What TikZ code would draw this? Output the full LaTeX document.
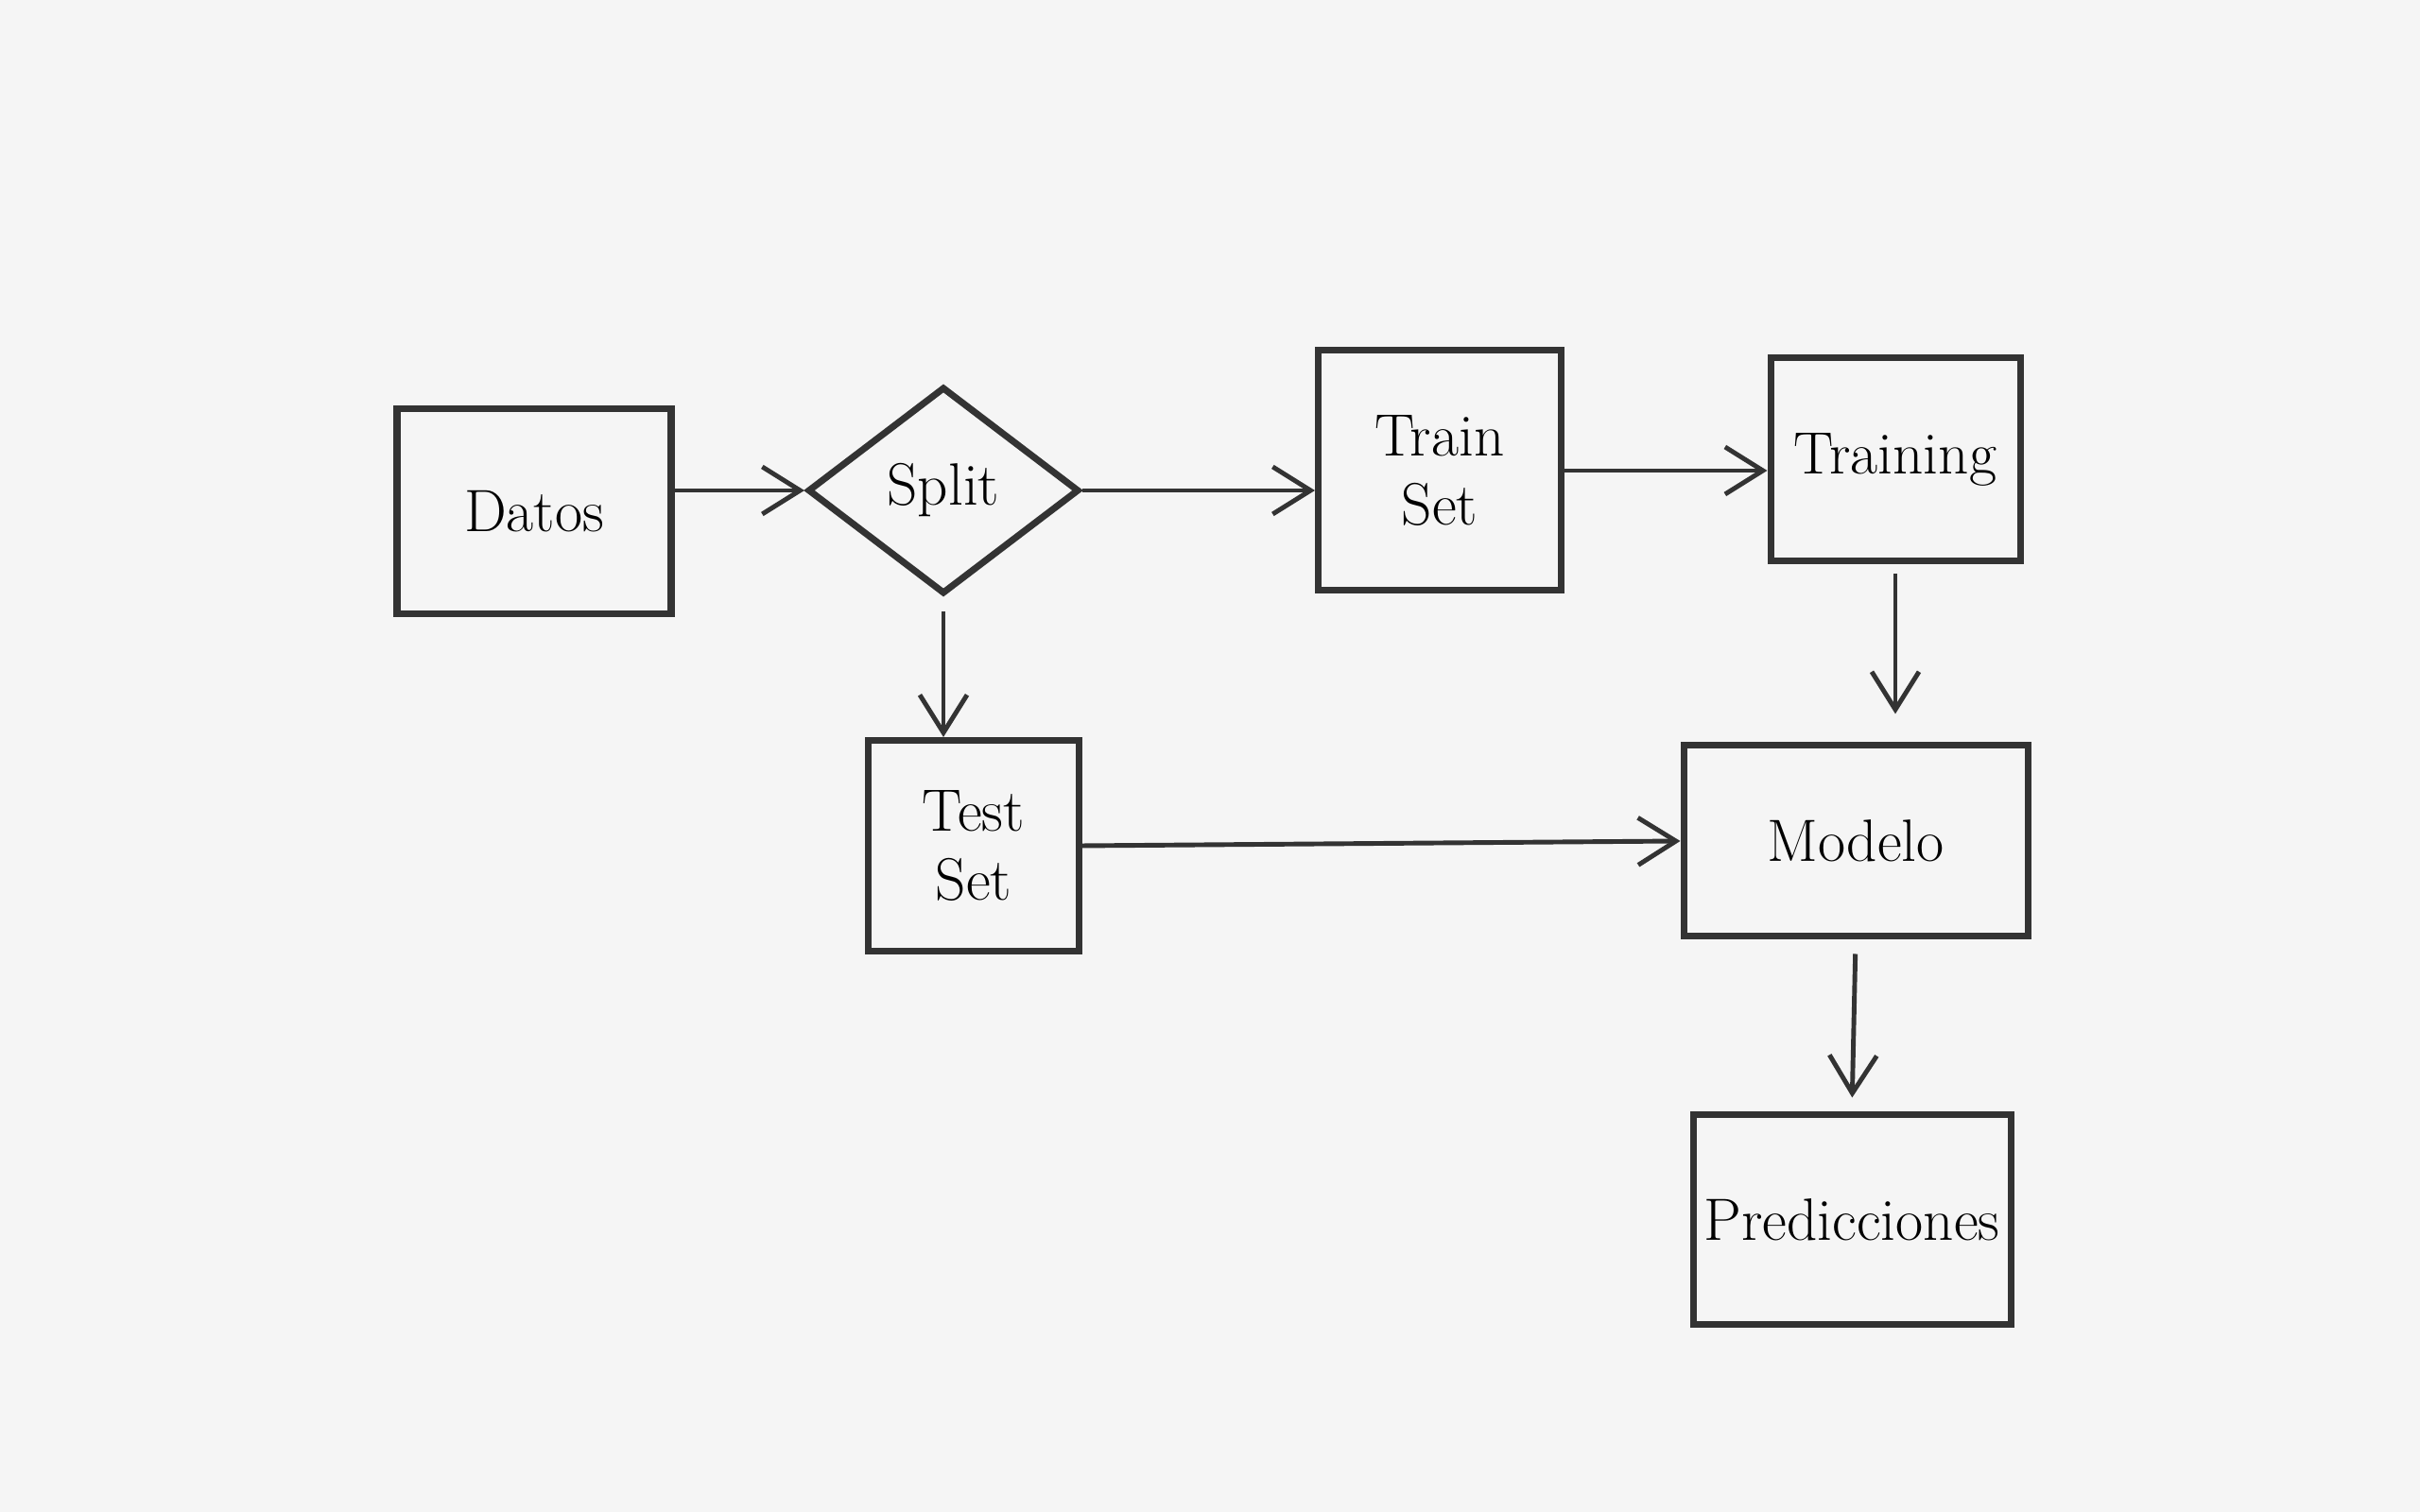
\documentclass[tikz,border=0pt]{standalone}
\usepackage{xcolor}
\usepackage{tikz}
\usetikzlibrary{shapes.geometric,arrows.meta}
\definecolor{paper}{HTML}{F5F5F5}
\definecolor{ink}{HTML}{333333}

\begin{document}
\begin{tikzpicture}[
    box/.style={draw=ink, line width=2pt, inner sep=0pt, align=center,
                font=\fontsize{18}{21}\selectfont},
    decision/.style={box, diamond},
    flow/.style={draw=ink, line width=1.4pt,
                 -{Straight Barb[length=0.4cm, width=0.5cm, line width=1.4pt]}}
]
    % canvas
    \fill[paper] (0,0) rectangle (25.6,16);
    \useasboundingbox (0,0) rectangle (25.6,16);

    % Boxes
    \node[box, minimum width=2.90cm, minimum height=2.17cm] (datos) at (5.65,10.59) {Datos};
    \node[decision, minimum width=2.87cm, minimum height=2.19cm] (split) at (9.98,10.81) {Split};
    \node[box, minimum width=2.57cm, minimum height=2.54cm] (trainset) at (15.23,11.02) {Train\\Set};
    \node[box, minimum width=2.64cm, minimum height=2.15cm] (training) at (20.05,11.14) {Training};
    \node[box, minimum width=2.23cm, minimum height=2.23cm] (testset) at (10.30,7.05) {Test\\Set};
    \node[box, minimum width=3.64cm, minimum height=2.02cm] (modelo) at (19.63,7.10) {Modelo};
    \node[box, minimum width=3.36cm, minimum height=2.22cm] (pred) at (19.59,3.09) {Predicciones};

    % Arrows
    \draw[flow] (datos.east |- split.west) -- (split.west);
    \draw[flow] (split.east) -- (trainset.west |- split.east);
    \draw[flow] (trainset.east) -- (trainset.east -| training.west);
    \draw[flow, shorten <=0.1cm, shorten >=0.3cm] (training.south) -- (training.south |- modelo.north);
    \draw[flow, shorten <=0.15cm] (split.south) -- (split.south |- testset.north);
    \draw[flow] (testset.east) -- (modelo.west);
    \draw[flow, shorten <=0.15cm, shorten >=0.15cm] (modelo.south) -- (pred.north);
\end{tikzpicture}
\end{document}
